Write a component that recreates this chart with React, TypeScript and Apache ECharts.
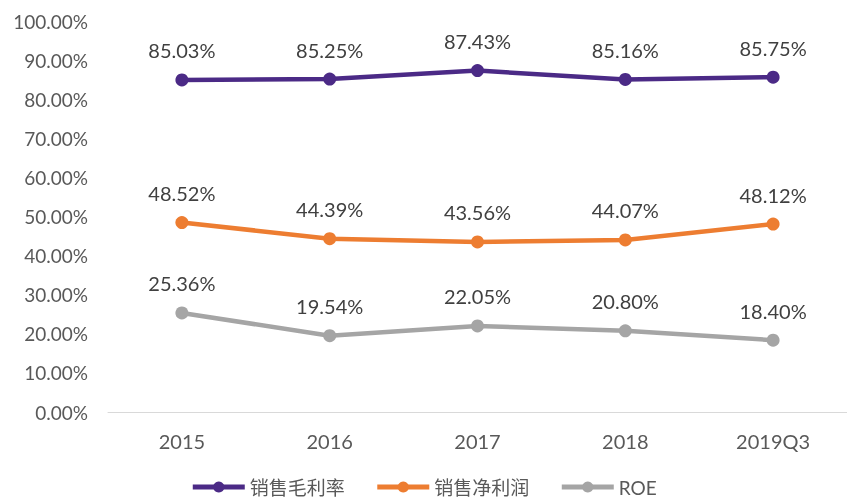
import React, { useEffect, useRef } from "react";
import * as echarts from "echarts";

const categories = ["2015", "2016", "2017", "2018", "2019Q3"];
const grossMargin = [85.03, 85.25, 87.43, 85.16, 85.75];
const netMargin = [48.52, 44.39, 43.56, 44.07, 48.12];
const roe = [25.36, 19.54, 22.05, 20.8, 18.4];
const seriesNames = ["销售毛利率", "销售净利润", "ROE"];
const colors = ["#4B2A86", "#ED7D31", "#A5A5A5"];

const FONT = "Lato, 'Noto Sans CJK SC', sans-serif";

export default function App() {
  const ref = useRef<HTMLDivElement>(null);
  useEffect(() => {
    if (!ref.current) return;
    const chart = echarts.init(ref.current, null, { renderer: "svg" });
    const mk = (name: string, data: number[], color: string) => ({
      name,
      type: "line",
      data,
      symbol: "circle",
      symbolSize: 13,
      color,
      lineStyle: { width: 4.5, color },
      itemStyle: { color },
      label: {
        show: true,
        position: "top",
        distance: 13,
        formatter: (p: any) => p.value.toFixed(2) + "%",
        fontSize: 20,
        color: "#404040",
        fontFamily: FONT,
      },
    });
    chart.setOption({
      animation: false,
      textStyle: { fontFamily: FONT },
      grid: { left: 108, right: -6, top: 21.5, bottom: 86, containLabel: false },
      legend: {
        top: 472,
        left: "center",
        itemWidth: 52,
        itemHeight: 14,
        itemGap: 30,
        lineStyle: { width: 5 },
        textStyle: { fontSize: 19, color: "#595959", fontFamily: FONT, lineHeight: 20 },
        data: seriesNames,
      },
      xAxis: {
        type: "category",
        data: categories,
        boundaryGap: true,
        axisLine: { show: true, lineStyle: { color: "#D9D9D9", width: 1 } },
        axisTick: { show: false },
        axisLabel: { fontSize: 20, color: "#595959", margin: 19, fontFamily: FONT },
      },
      yAxis: {
        type: "value",
        min: 0,
        max: 100,
        interval: 10,
        splitLine: { show: false },
        axisLine: { show: false },
        axisTick: { show: false },
        axisLabel: {
          fontSize: 19,
          color: "#595959",
          margin: 20,
          fontFamily: FONT,
          formatter: (v: number) => v.toFixed(2) + "%",
        },
      },
      series: [
        mk(seriesNames[0], grossMargin, colors[0]),
        mk(seriesNames[1], netMargin, colors[1]),
        mk(seriesNames[2], roe, colors[2]),
      ],
    });
    return () => chart.dispose();
  }, []);
  return (
    <div
      ref={ref}
      style={{ position: "fixed", left: 0, top: 0, width: 847, height: 498 }}
    />
  );
}
